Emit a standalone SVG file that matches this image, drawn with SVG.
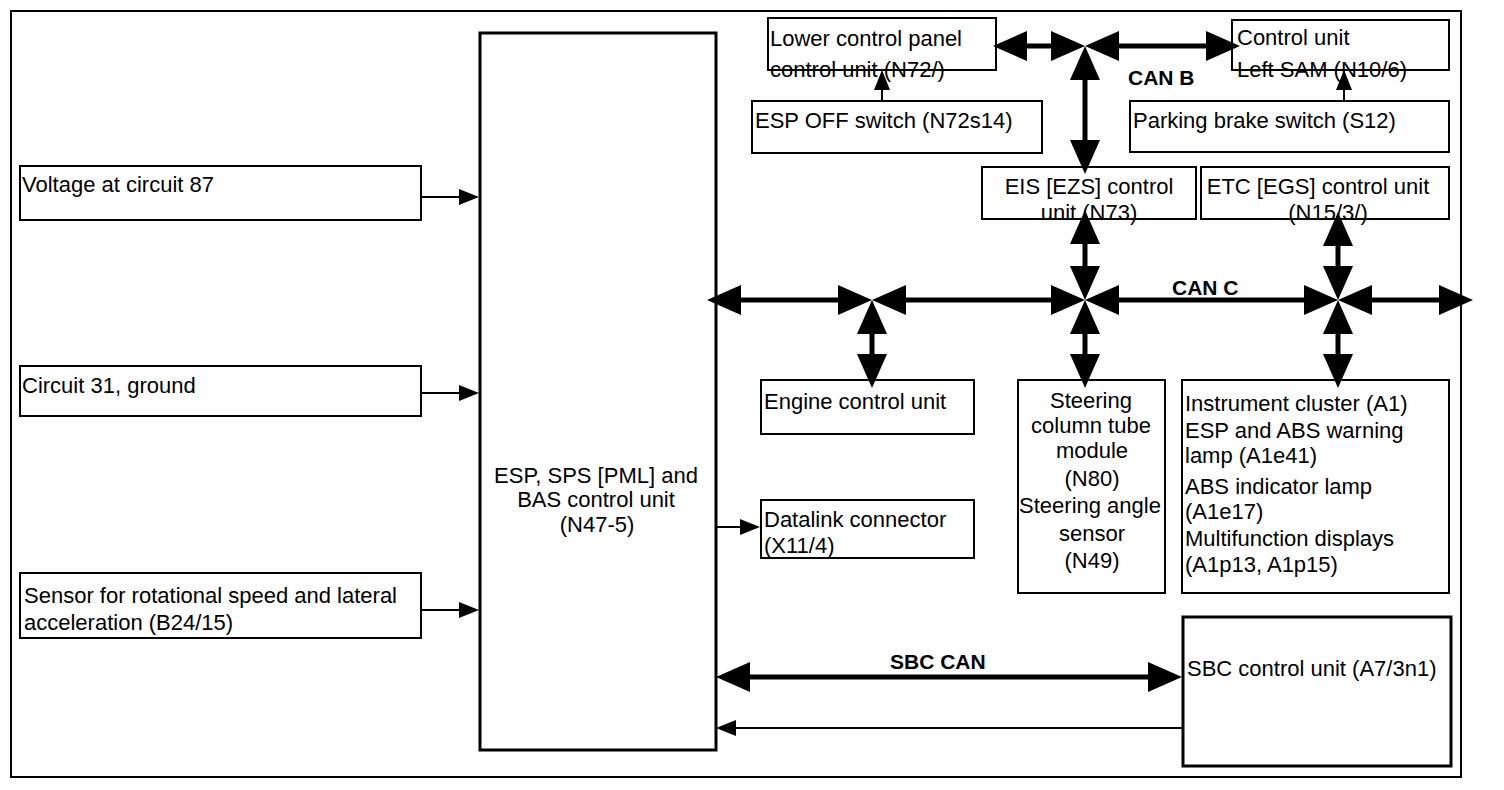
<svg xmlns="http://www.w3.org/2000/svg" width="1504" height="790" viewBox="0 0 1504 790">
<style>
  .box{fill:#fff;stroke:#000;stroke-width:2}
  .bold{stroke-width:3}
  text{font-family:"Liberation Sans",Arial,sans-serif;font-size:22px;fill:#000}
  .c{text-anchor:middle}
  .lbl{font-weight:bold;font-size:21px}
  .thick{fill:none;stroke:#000;stroke-width:5;marker-start:url(#big);marker-end:url(#big)}
  .thin{fill:none;stroke:#000;stroke-width:2;marker-end:url(#sm)}
</style>
<defs>
  <marker id="big" markerUnits="userSpaceOnUse" markerWidth="34" markerHeight="30" viewBox="0 0 34 30" refX="24" refY="15" orient="auto-start-reverse" overflow="visible"><path d="M0,0 L34,15 L0,30 Z" fill="#000"/></marker>
  <marker id="sm" markerUnits="userSpaceOnUse" markerWidth="20" markerHeight="16" viewBox="0 0 20 16" refX="14" refY="8" orient="auto" overflow="visible"><path d="M0,0 L20,8 L0,16 Z" fill="#000"/></marker>
</defs>
<rect x="0" y="0" width="1504" height="790" fill="#fff"/>
<rect id="frame" x="11" y="11" width="1450" height="766" fill="none" stroke="#000" stroke-width="2"/>

<g id="n-main"><rect class="box bold" x="480" y="33" width="236" height="717"/>
  <text class="c" x="596" y="483">ESP, SPS [PML] and</text>
  <text class="c" x="596" y="507">BAS control unit</text>
  <text class="c" x="597" y="532">(N47-5)</text></g>
<g id="n-voltage"><rect class="box" x="20" y="166" width="401" height="54"/>
  <text x="22" y="192">Voltage at circuit 87</text></g>
<g id="n-circuit31"><rect class="box" x="20" y="366" width="401" height="50"/>
  <text x="22" y="393">Circuit 31, ground</text></g>
<g id="n-sensor"><rect class="box" x="20" y="573" width="401" height="65"/>
  <text x="24" y="603">Sensor for rotational speed and lateral</text>
  <text x="24" y="630">acceleration (B24/15)</text></g>
<g id="n-lcp"><rect class="box" x="768" y="18" width="228" height="52"/>
  <text x="770" y="46">Lower control panel</text>
  <text x="770" y="77">control unit (N72/)</text></g>
<g id="n-sam"><rect class="box" x="1232" y="20" width="217" height="50"/>
  <text x="1237" y="45">Control unit</text>
  <text x="1237" y="77">Left SAM (N10/6)</text></g>
<g id="n-espoff"><rect class="box" x="752" y="101" width="290" height="52"/>
  <text x="755" y="128">ESP OFF switch (N72s14)</text></g>
<g id="n-parking"><rect class="box" x="1130" y="101" width="319" height="51"/>
  <text x="1133" y="128">Parking brake switch (S12)</text></g>
<g id="n-eis"><rect class="box" x="982" y="167" width="214" height="52"/>
  <text class="c" x="1089" y="194">EIS [EZS] control</text>
  <text class="c" x="1089" y="220">unit (N73)</text></g>
<g id="n-etc"><rect class="box" x="1201" y="167" width="248" height="52"/>
  <text class="c" x="1318" y="194">ETC [EGS] control unit</text>
  <text class="c" x="1328" y="220">(N15/3/)</text></g>
<g id="n-engine"><rect class="box" x="761" y="380" width="213" height="54"/>
  <text x="764" y="409">Engine control unit</text></g>
<g id="n-datalink"><rect class="box" x="761" y="500" width="213" height="58"/>
  <text x="764" y="527">Datalink connector</text>
  <text x="764" y="553">(X11/4)</text></g>
<g id="n-steering"><rect class="box" x="1018" y="380" width="147" height="213"/>
  <text class="c" x="1091" y="408">Steering</text>
  <text class="c" x="1091" y="433">column tube</text>
  <text class="c" x="1092" y="458">module</text>
  <text class="c" x="1092" y="486">(N80)</text>
  <text class="c" x="1090" y="513">Steering angle</text>
  <text class="c" x="1092" y="541">sensor</text>
  <text class="c" x="1092" y="568">(N49)</text></g>
<g id="n-cluster"><rect class="box" x="1182" y="380" width="267" height="213"/>
  <text x="1185" y="411">Instrument cluster (A1)</text>
  <text x="1185" y="438">ESP and ABS warning</text>
  <text x="1185" y="463">lamp (A1e41)</text>
  <text x="1185" y="494">ABS indicator lamp</text>
  <text x="1185" y="519">(A1e17)</text>
  <text x="1185" y="546">Multifunction displays</text>
  <text x="1185" y="572">(A1p13, A1p15)</text></g>
<g id="n-sbc"><rect class="box bold" x="1183" y="617" width="268" height="149"/>
  <text x="1187" y="676">SBC control unit (A7/3n1)</text></g>

<g id="connectors">
  <path class="thin" d="M421,197 H473"/>
  <path class="thin" d="M421,393 H473"/>
  <path class="thin" d="M421,610 H473"/>
  <path class="thin" d="M716,527 H754"/>
  <path class="thin" d="M1183,728 H722"/>
  <path class="thin" d="M882,101 V76"/>
  <path class="thin" d="M1344,101 V76"/>

  <path class="thick" d="M717,300 H862"/>
  <path class="thick" d="M882,300 H1075"/>
  <path class="thick" d="M1095,300 H1328"/>
  <path class="thick" d="M1348,300 H1463"/>
  <path class="thick" d="M872,310 V378"/>
  <path class="thick" d="M1085,220 V290"/>
  <path class="thick" d="M1085,310 V378"/>
  <path class="thick" d="M1338,222 V290"/>
  <path class="thick" d="M1338,310 V378"/>

  <path class="thick" d="M1003,46 H1075"/>
  <path class="thick" d="M1095,46 H1230"/>
  <path class="thick" d="M1085,56 V164"/>

  <path class="thick" d="M726,677 H1172"/>

  <text class="lbl" x="1128" y="85">CAN B</text>
  <text class="lbl" x="1172" y="295">CAN C</text>
  <text class="lbl" x="890" y="669">SBC CAN</text>
</g>
</svg>
